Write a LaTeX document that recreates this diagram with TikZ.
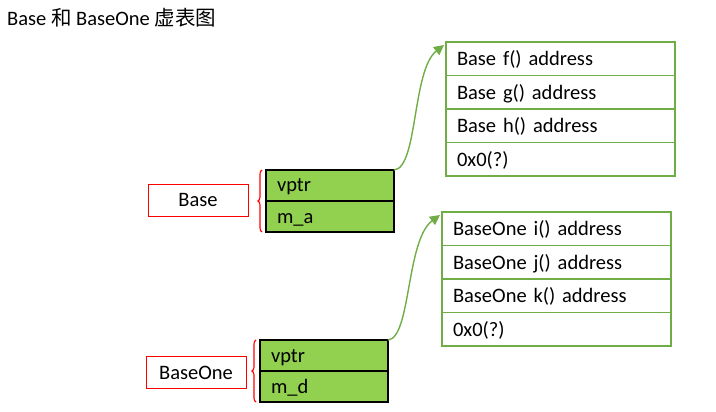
\documentclass[tikz,border=0pt]{standalone}
\usepackage{fontspec}
\setmainfont{Carlito}
\newfontfamily\cjk{Noto Sans CJK SC}
\usepackage{tikz}
\usetikzlibrary{arrows.meta, decorations.pathreplacing, positioning}
\definecolor{cellgreen}{HTML}{92D050}
\definecolor{tabgreen}{HTML}{70AD47}
\definecolor{labred}{HTML}{FF0000}

\begin{document}
\begin{tikzpicture}[x=1pt, y=-1pt, >=Stealth,
    font=\fontsize{20.5}{24}\selectfont,
    classbox/.style={draw=labred, line width=0.8pt, minimum width=100,
      minimum height=32, inner sep=0pt, text height=15pt, text depth=1pt},
    member/.style={draw=black, fill=cellgreen, line width=1.1pt,
      minimum width=128, minimum height=31, text width=106, align=left,
      inner sep=0pt, outer sep=0pt, text height=15pt, text depth=2pt},
    slot/.style={draw=tabgreen, line width=1.6pt, minimum width=229,
      minimum height=33.5, text width=207, align=left, inner sep=0pt,
      outer sep=0pt, text height=16pt, text depth=2pt},
    brace/.style={draw=labred, line width=1.1pt, decorate,
      decoration={brace, amplitude=4pt}},
    ptr/.style={->, draw=tabgreen, line width=1.4pt,
      arrows={-Triangle[length=10pt, width=10pt]}}]
  \useasboundingbox (0,0) rectangle (716,412);

  % Title
  \node[anchor=west, inner sep=0pt] (title) at (7,18)
    {Base {\cjk 和} BaseOne {\cjk 虚表图}};

  % Base object
  \node[member, anchor=north west] (bvptr) at (266,170) {vptr};
  \node[member, below=0pt of bvptr] (bma) {m\_a};
  \node[classbox] (base) at (198,200) {Base};
  \coordinate (btop) at ([xshift=-4]bvptr.north west);
  \coordinate (bbot) at ([xshift=-4]bma.south west);
  \draw[brace] (bbot) -- (btop);

  % BaseOne object
  \node[member, anchor=north west] (ovptr) at (260,340) {vptr};
  \node[member, below=0pt of ovptr] (omd) {m\_d};
  \node[classbox] (baseone) at (196,372) {BaseOne};
  \coordinate (otop) at ([xshift=-4]ovptr.north west);
  \coordinate (obot) at ([xshift=-4]omd.south west);
  \draw[brace] (obot) -- (otop);

  % Base vtable
  \node[slot, anchor=north west] (bf) at (446,42) {Base f() address};
  \node[slot, below=0pt of bf] (bg) {Base g() address};
  \node[slot, below=0pt of bg] (bh) {Base h() address};
  \node[slot, below=0pt of bh] (bnull) {0x0(?)};

  % BaseOne vtable
  \node[slot, anchor=north west] (oi) at (442,212) {BaseOne i() address};
  \node[slot, below=0pt of oi] (oj) {BaseOne j() address};
  \node[slot, below=0pt of oj] (ok) {BaseOne k() address};
  \node[slot, below=0pt of ok] (onull) {0x0(?)};

  % vptr links
  \draw[ptr] (bvptr.north east) .. controls (418,168) and (412,70) ..
    ([shift={(-2,3)}]bf.north west);
  \draw[ptr] (ovptr.north east) .. controls (411,338) and (406,240) ..
    ([shift={(-2,3)}]oi.north west);
\end{tikzpicture}
\end{document}
